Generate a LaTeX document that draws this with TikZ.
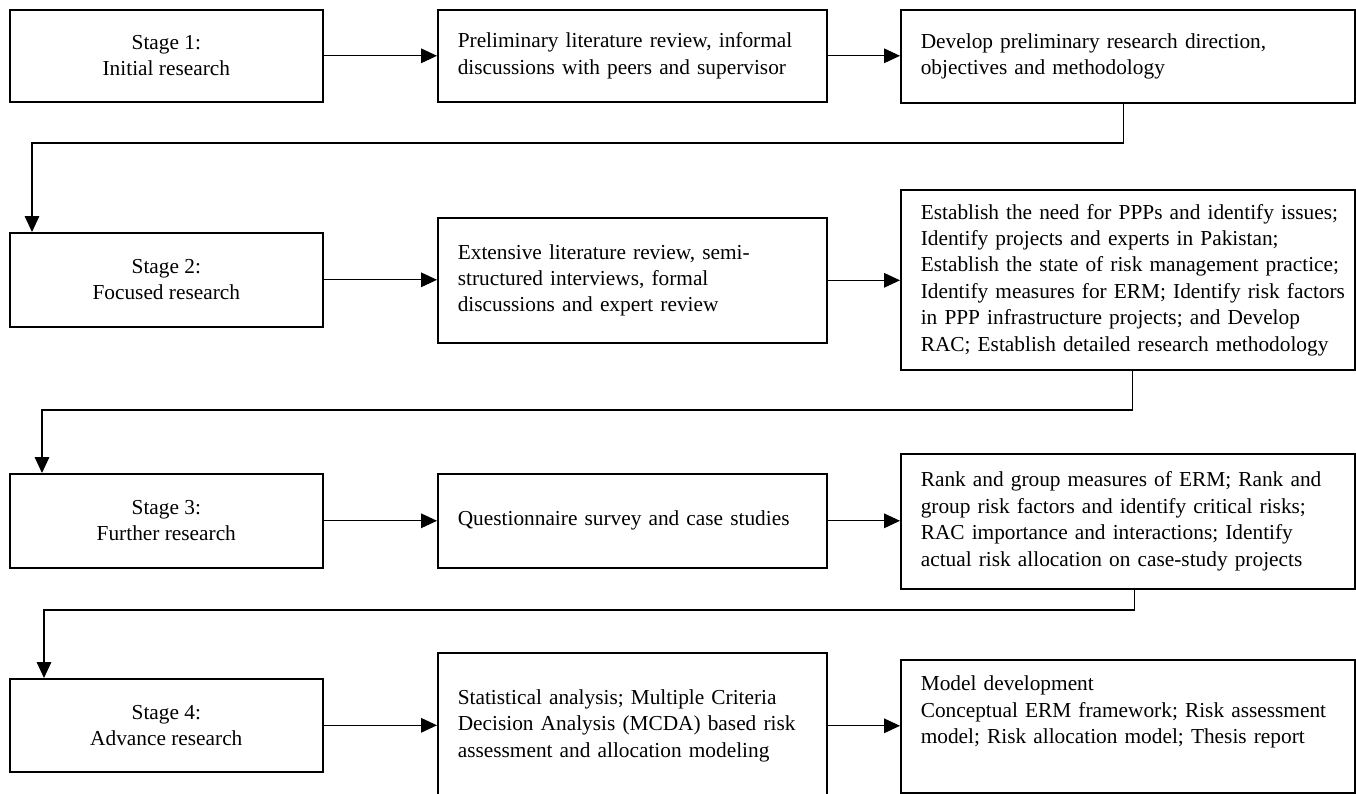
\documentclass[tikz,border=0pt]{standalone}
\usepackage{fontspec}
\setmainfont{Liberation Serif}
\usetikzlibrary{arrows.meta}
\begin{document}
\begin{tikzpicture}[x=0.75pt,y=-0.75pt,
  every node/.style={font=\fontsize{16pt}{19.8pt}\selectfont, inner sep=0pt, anchor=north west},
  frame/.style={draw, line width=1.2pt},
  stagebox/.style={frame, align=center, minimum width=234.75pt},
  padbox/.style 2 args={frame, align=left, text width=#1*0.75pt,
    execute at begin node={\leftskip=\dimexpr #2pt*3/4\relax}},
  bbox/.style={padbox={389}{20}},
  cbox/.style={padbox={454}{20}},
  conn/.style={line width=0.8pt},
  arr/.style={conn, -{Triangle[length=12pt,width=11pt]}}]

% page area (the last middle box runs past the lower edge)
\clip (0,0) rectangle (1356,793);

% ---- Stage 1 ----
\node[stagebox, minimum height=92*0.75pt] (s1) at (9,9) {Stage 1:\\Initial research};
\node[bbox, minimum height=92*0.75pt] (b1) at (437,9)
  {Preliminary literature review, informal\\discussions with peers and supervisor};
\node[cbox, minimum height=93*0.75pt] (c1) at (900,9)
  {Develop preliminary research direction,\\objectives and methodology};

% ---- Stage 2 ----
\node[stagebox, minimum height=94*0.75pt] (s2) at (9,232) {Stage 2:\\Focused research};
\node[bbox, minimum height=125*0.75pt] (b2) at (437,217)
  {Extensive literature review, semi-\\structured interviews, formal\\discussions and expert review};
\node[cbox, minimum height=180*0.75pt] (c2) at (900,189)
  {Establish the need for PPPs and identify issues;\\
   Identify projects and experts in Pakistan;\\
   Establish the state of risk management practice;\\
   Identify measures for ERM; Identify risk factors\\
   in PPP infrastructure projects; and Develop\\
   RAC; Establish detailed research methodology};

% ---- Stage 3 ----
\node[stagebox, minimum height=94*0.75pt] (s3) at (9,473) {Stage 3:\\Further research};
\node[bbox, minimum height=94*0.75pt] (b3) at (437,473)
  {Questionnaire survey and case studies};
\node[cbox, minimum height=135*0.75pt] (c3) at (900,453)
  {Rank and group measures of ERM; Rank and\\
   group risk factors and identify critical risks;\\
   RAC importance and interactions; Identify\\
   actual risk allocation on case-study projects};

% ---- Stage 4 ----
\node[stagebox, minimum height=93*0.75pt] (s4) at (9,678) {Stage 4:\\Advance research};
\node[bbox, minimum height=146*0.75pt] (b4) at (437,652)
  {Statistical analysis; Multiple Criteria\\Decision Analysis (MCDA) based risk\\assessment and allocation modeling};
% the deep strut on the last line keeps this text in the upper part of its box
\node[cbox, minimum height=133*0.75pt] (c4) at (900,659)
  {Model development\\Conceptual ERM framework; Risk assessment\\model; Risk allocation model; Thesis report\rule[-24.5pt]{0pt}{24.5pt}};

% ---- arrows along each row ----
\draw[arr] (s1.east) -- (b1.west);
\draw[arr] (b1.east) -- (b1.east -| c1.west);
\draw[arr] (s2.east) -- (s2.east -| b2.west);
\draw[arr] (b2.east) -- (b2.east -| c2.west);
\draw[arr] (s3.east) -- (b3.west);
\draw[arr] (b3.east) -- (b3.east -| c3.west);
\draw[arr] (s4.east) -- (s4.east -| b4.west);
\draw[arr] (b4.east) -- (b4.east -| c4.west);

% ---- links from one stage to the next ----
\coordinate (k1) at (32,143);
\coordinate (k2) at (42,410);
\coordinate (k3) at (44,610);
\draw[arr] ([xshift=-3pt]c1.south) |- (k1) -- (k1 |- s2.north);
\draw[arr] ([xshift=3.75pt]c2.south) |- (k2) -- (k2 |- s3.north);
\draw[arr] ([xshift=5.25pt]c3.south) |- (k3) -- (k3 |- s4.north);
\end{tikzpicture}
\end{document}
